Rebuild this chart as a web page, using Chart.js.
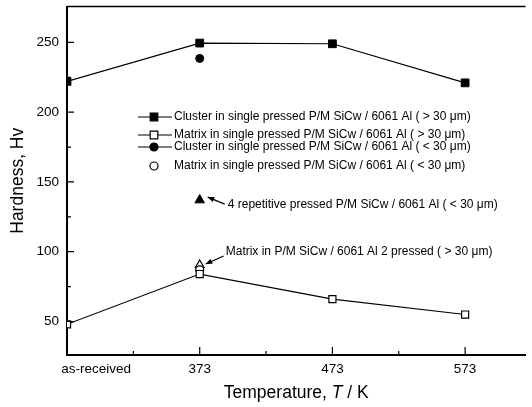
<!DOCTYPE html>
<html>
<head>
<meta charset="utf-8">
<script src="https://cdn.jsdelivr.net/npm/chart.js@4.4.1/dist/chart.umd.min.js"></script>
<style>
  html, body { margin: 0; padding: 0; background: #fff; }
  #wrap { width: 532px; height: 407px; }
</style>
</head>
<body>
<div id="wrap"><canvas id="chart" width="532" height="407"></canvas></div>
<script>
// temperatures (as-received, then K)
const categories = ["as-received", "373", "473", "573"];

// hardness Hv, one value per category (null = not measured)
const clusterOver30 = [222, 249.5, 249, 221];
const matrixOver30 = [48, 84, 66, 55];
const clusterUnder30 = [null, 238.5, null, null];
const matrixUnder30 = [null, 87, null, null];
const repetitive4 = [null, 137, null, null];
const matrix2Pressed = [null, 90.5, null, null];

const yTicks = [50, 100, 150, 200, 250];
const yMinor = [75, 125, 175, 225];
const xMinor = [0.5, 1.5, 2.5];

const FONT = '"Liberation Sans", Arial, sans-serif';

function pts(arr) {
  return arr.map((v, i) => ({ x: i, y: v })).filter(p => p.y !== null);
}

const data = {
  datasets: [
    {
      label: "Cluster in single pressed P/M SiCw / 6061 Al ( > 30 \u03bcm)",
      data: pts(clusterOver30),
      borderColor: "#000", backgroundColor: "#000",
      borderWidth: 1.2, pointStyle: "rect", pointRadius: 5.5,
      pointBorderWidth: 1
    },
    {
      label: "Matrix in single pressed P/M SiCw / 6061 Al ( > 30 \u03bcm)",
      data: pts(matrixOver30),
      borderColor: "#000", backgroundColor: "#fff",
      borderWidth: 1.2, pointStyle: "rect", pointRadius: 5,
      pointBorderWidth: 1.2
    },
    {
      label: "Cluster in single pressed P/M SiCw / 6061 Al ( < 30 \u03bcm)",
      data: pts(clusterUnder30),
      borderColor: "#000", backgroundColor: "#000",
      showLine: false, pointStyle: "circle", pointRadius: 4
    },
    {
      label: "Matrix in single pressed P/M SiCw / 6061 Al ( < 30 \u03bcm)",
      data: pts(matrixUnder30),
      borderColor: "#000", backgroundColor: "#fff",
      showLine: false, pointStyle: "circle", pointRadius: 4, pointBorderWidth: 1.2
    },
    {
      label: "4 repetitive pressed P/M SiCw / 6061 Al ( < 30 \u03bcm)",
      data: pts(repetitive4),
      borderColor: "#000", backgroundColor: "#000",
      showLine: false, pointStyle: "triangle", pointRadius: 5.5
    },
    {
      label: "Matrix in P/M SiCw / 6061 Al 2 pressed ( > 30 \u03bcm)",
      data: pts(matrix2Pressed),
      borderColor: "#000", backgroundColor: "#fff",
      showLine: false, pointStyle: "triangle", pointRadius: 5, pointBorderWidth: 1.2
    }
  ]
};

function drawMarker(ctx, kind, x, y) {
  ctx.beginPath();
  if (kind.startsWith("rect")) ctx.rect(x - 3.8, y - 3.8, 7.6, 7.6);
  else ctx.arc(x, y, 4, 0, Math.PI * 2);
  ctx.fillStyle = kind.endsWith("Filled") ? "#000" : "#fff";
  ctx.fill();
  ctx.lineWidth = 1.2;
  ctx.stroke();
}

function arrow(ctx, x1, y1, x2, y2) {
  const ang = Math.atan2(y2 - y1, x2 - x1);
  ctx.beginPath();
  ctx.moveTo(x1, y1);
  ctx.lineTo(x2, y2);
  ctx.lineWidth = 1.2;
  ctx.stroke();
  ctx.beginPath();
  ctx.moveTo(x2, y2);
  ctx.lineTo(x2 - 7 * Math.cos(ang - 0.4), y2 - 7 * Math.sin(ang - 0.4));
  ctx.lineTo(x2 - 7 * Math.cos(ang + 0.4), y2 - 7 * Math.sin(ang + 0.4));
  ctx.closePath();
  ctx.fill();
}

// frame, inward ticks, legend, notes, x title
const decorations = {
  id: "decorations",
  afterDraw(chart) {
    const { ctx, chartArea: a, scales: { x, y } } = chart;
    ctx.save();
    ctx.strokeStyle = "#000";
    ctx.fillStyle = "#000";

    ctx.lineWidth = 1.5;
    ctx.beginPath();
    ctx.moveTo(a.left, a.top);
    ctx.lineTo(a.right, a.top);
    ctx.stroke();

    ctx.lineWidth = 1.2;
    ctx.beginPath();
    yTicks.forEach(v => { const p = y.getPixelForValue(v); ctx.moveTo(a.left, p); ctx.lineTo(a.left + 7, p); });
    yMinor.forEach(v => { const p = y.getPixelForValue(v); ctx.moveTo(a.left, p); ctx.lineTo(a.left + 4, p); });
    categories.forEach((c, i) => { const p = x.getPixelForValue(i); ctx.moveTo(p, a.bottom); ctx.lineTo(p, a.bottom - 8); });
    xMinor.forEach(v => { const p = x.getPixelForValue(v); ctx.moveTo(p, a.bottom); ctx.lineTo(p, a.bottom - 4); });
    ctx.stroke();

    // legend
    const ds = chart.data.datasets;
    const rows = [
      { y: 117, kind: "rectFilled", line: true },
      { y: 135, kind: "rectOpen", line: true },
      { y: 147, kind: "circleFilled", line: true },
      { y: 166, kind: "circleOpen", line: false }
    ];
    ctx.font = "12px " + FONT;
    ctx.textBaseline = "middle";
    ctx.textAlign = "left";
    rows.forEach((r, i) => {
      if (r.line) {
        ctx.lineWidth = 1.2;
        ctx.beginPath();
        ctx.moveTo(138, r.y); ctx.lineTo(172, r.y);
        ctx.stroke();
      }
      drawMarker(ctx, r.kind, 154, r.y);
      ctx.fillStyle = "#000";
      ctx.fillText(ds[i].label, 174, r.y);
    });

    // notes with arrows
    const t1 = chart.getDatasetMeta(4).data[0];
    ctx.fillText(ds[4].label, t1.x + 28, t1.y + 5);
    arrow(ctx, t1.x + 25, t1.y + 4, t1.x + 8, t1.y - 3);

    const t2 = chart.getDatasetMeta(5).data[0];
    ctx.fillText(ds[5].label, t2.x + 26, t2.y - 13);
    arrow(ctx, t2.x + 24, t2.y - 9, t2.x + 6, t2.y - 1);

    // x axis title
    const parts = [["Temperature, ", ""], ["T", "italic "], [" / K", ""]];
    let w = 0;
    parts.forEach(p => { ctx.font = p[1] + "17.5px " + FONT; w += ctx.measureText(p[0]).width; });
    let cx = (a.left + a.right) / 2 - w / 2;
    parts.forEach(p => {
      ctx.font = p[1] + "17.5px " + FONT;
      ctx.fillText(p[0], cx, 393);
      cx += ctx.measureText(p[0]).width;
    });
    ctx.restore();
  }
};

function noPad(s) {
  s.paddingTop = 0; s.paddingBottom = 0; s.paddingLeft = 0; s.paddingRight = 0;
}

const config = {
  type: "line",
  data: data,
  options: {
    responsive: false,
    animation: false,
    events: [],
    layout: { padding: { top: 6, right: 1, left: 0, bottom: 0 } },
    plugins: { legend: { display: false }, tooltip: { enabled: false } },
    scales: {
      x: {
        type: "linear",
        min: 0,
        max: 3.455,
        grid: { display: false, drawTicks: false },
        border: { display: true, color: "#000", width: 2 },
        // the "as-received" label sits a little right of the axis, as in the original
        afterBuildTicks: s => { s.ticks = categories.map((c, i) => ({ value: i === 0 ? 0.22 : i })); },
        afterFit: s => { s.height = 52; noPad(s); },
        ticks: {
          color: "#000", padding: 6, maxRotation: 0,
          font: { family: FONT, size: 13.5 },
          callback: (v, i) => categories[i]
        }
      },
      y: {
        min: 26,
        max: 275.7,
        grid: { display: false, drawTicks: false },
        border: { display: true, color: "#000", width: 2 },
        afterBuildTicks: s => { s.ticks = yTicks.map(v => ({ value: v })); },
        afterFit: s => { s.width = 67; noPad(s); },
        ticks: { color: "#000", padding: 8, font: { family: FONT, size: 13.5 } },
        title: {
          display: true, text: "Hardness, Hv", color: "#000",
          font: { family: FONT, size: 17.5 }, padding: { top: 7.5, bottom: 0 }
        }
      }
    }
  },
  plugins: [decorations]
};

const myChart = new Chart(document.getElementById("chart"), config);
</script>
</body>
</html>
